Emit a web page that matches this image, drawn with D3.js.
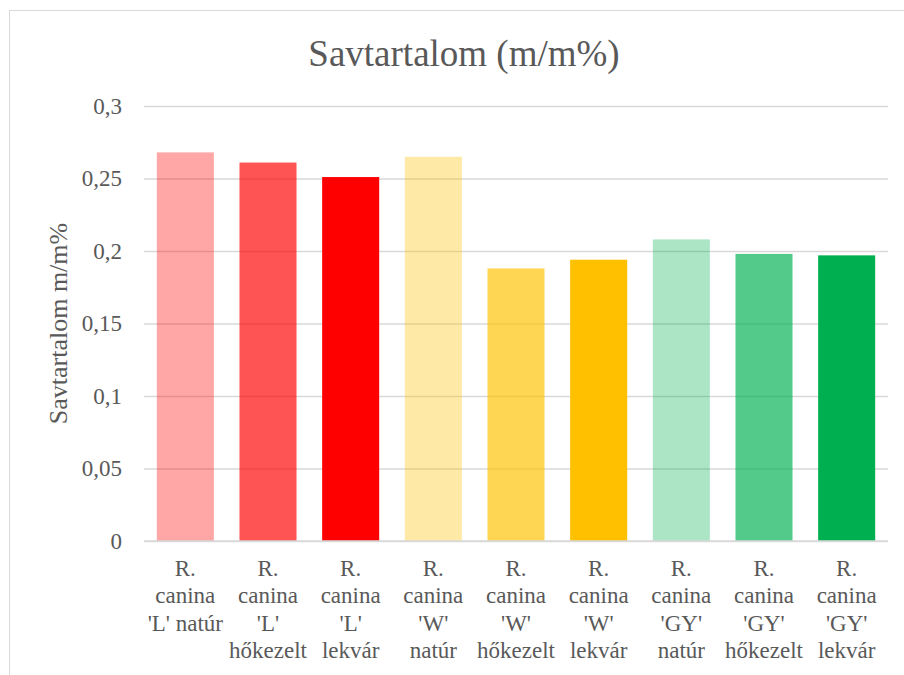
<!DOCTYPE html>
<html>
<head>
<meta charset="utf-8">
<script src="https://cdn.jsdelivr.net/npm/d3@7"></script>
<style>
  html, body { margin: 0; padding: 0; background: #fff; }
  svg text { font-family: "Liberation Serif", "Times New Roman", serif; fill: #595959; }
</style>
</head>
<body>
<svg id="chart" width="904" height="675"></svg>
<script>
// ---- data ----
const categories = [
  "R. canina 'L' natúr", "R. canina 'L' hőkezelt", "R. canina 'L' lekvár",
  "R. canina 'W' natúr", "R. canina 'W' hőkezelt", "R. canina 'W' lekvár",
  "R. canina 'GY' natúr", "R. canina 'GY' hőkezelt", "R. canina 'GY' lekvár"
];
const categoryLines = [
  ["R.", "canina", "'L' natúr"],
  ["R.", "canina", "'L'", "hőkezelt"],
  ["R.", "canina", "'L'", "lekvár"],
  ["R.", "canina", "'W'", "natúr"],
  ["R.", "canina", "'W'", "hőkezelt"],
  ["R.", "canina", "'W'", "lekvár"],
  ["R.", "canina", "'GY'", "natúr"],
  ["R.", "canina", "'GY'", "hőkezelt"],
  ["R.", "canina", "'GY'", "lekvár"]
];
const values = [0.268, 0.261, 0.251, 0.265, 0.188, 0.194, 0.208, 0.198, 0.197];
const baseColors = ["#FF0000", "#FF0000", "#FF0000", "#FFC000", "#FFC000", "#FFC000", "#00B050", "#00B050", "#00B050"];
const opacities = [0.35, 0.67, 1, 0.35, 0.67, 1, 0.33, 0.67, 1];
const yTicks = [0, 0.05, 0.1, 0.15, 0.2, 0.25, 0.3];
const chartTitle = "Savtartalom (m/m%)";
const yAxisTitle = "Savtartalom m/m%";

// ---- layout ----
const svg = d3.select("#chart");
const margin = { left: 144, right: 16, top: 106, bottom: 134 };
const W = 904, H = 675;

// chart border
svg.append("rect")
  .attr("x", 9.5).attr("y", 10.5)
  .attr("width", 1000).attr("height", 1000)
  .attr("fill", "none").attr("stroke", "#D9D9D9").attr("stroke-width", 1);

const x = d3.scaleBand()
  .domain(categories)
  .range([margin.left, W - margin.right])
  .paddingInner(0.31).paddingOuter(0.155);

const y = d3.scaleLinear()
  .domain([0, 0.3])
  .range([H - margin.bottom, margin.top]);

const fmt = v => d3.format("")(+v.toFixed(2)).replace(".", ",");

// gridlines + y labels
const yAxis = d3.axisLeft(y)
  .tickValues(yTicks)
  .tickSize(-(W - margin.right - margin.left))
  .tickPadding(22)
  .tickFormat(fmt);

const gy = svg.append("g")
  .attr("transform", `translate(${margin.left},0)`)
  .call(yAxis);
gy.select(".domain").remove();
gy.selectAll(".tick line")
  .attr("stroke", "#D9D9D9").attr("stroke-width", 1.5);
gy.selectAll(".tick text")
  .attr("font-size", 23)
  .style("font-family", "'Liberation Serif', serif")
  .attr("fill", "#595959");

// bars
svg.append("g").selectAll("rect")
  .data(values)
  .join("rect")
  .attr("x", (d, i) => x(categories[i]))
  .attr("width", x.bandwidth())
  .attr("y", d => y(d))
  .attr("height", d => y(0) - y(d))
  .attr("fill", (d, i) => baseColors[i])
  .attr("fill-opacity", (d, i) => opacities[i]);

// x axis baseline
svg.append("line")
  .attr("x1", margin.left).attr("x2", W - margin.right)
  .attr("y1", y(0)).attr("y2", y(0))
  .attr("stroke", "#D9D9D9").attr("stroke-width", 1.5);

// x labels
const xl = svg.append("g").selectAll("text")
  .data(categories)
  .join("text")
  .attr("text-anchor", "middle")
  .attr("font-size", 23)
  .attr("x", d => x(d) + x.bandwidth() / 2)
  .attr("y", y(0) + 35);
xl.each(function(d, i) {
  const t = d3.select(this);
  categoryLines[i].forEach((line, j) => {
    t.append("tspan")
      .attr("x", x(d) + x.bandwidth() / 2)
      .attr("dy", j === 0 ? 0 : 27.3)
      .text(line);
  });
});

// title
svg.append("text")
  .attr("x", 464).attr("y", 66)
  .attr("text-anchor", "middle")
  .attr("font-size", 37)
  .text(chartTitle);

// y axis title
svg.append("text")
  .attr("transform", `translate(67, ${(y(0) + y(0.3)) / 2}) rotate(-90)`)
  .attr("text-anchor", "middle")
  .attr("font-size", 26)
  .text(yAxisTitle);
</script>
</body>
</html>
